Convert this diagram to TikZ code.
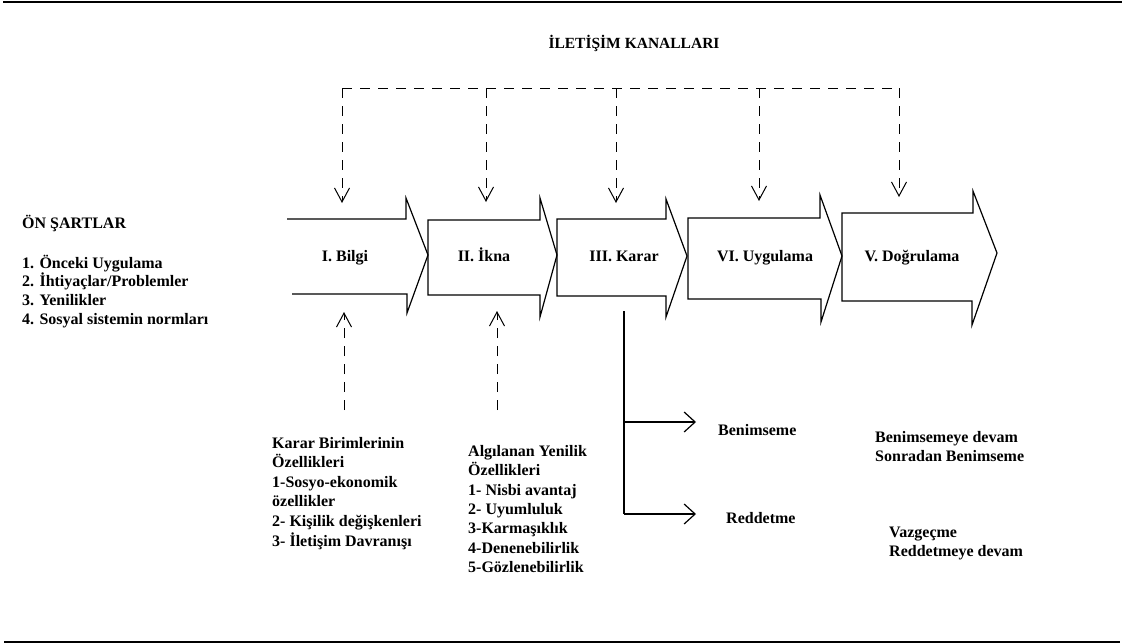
\documentclass[tikz,border=0pt]{standalone}
\usepackage{fontspec}
\setmainfont{Liberation Serif}
\usetikzlibrary{arrows.meta}
\begin{document}
\begin{tikzpicture}[x=1pt,y=-1pt,
  blockarrow/.style={draw=black, line width=1.2pt, line join=miter},
  txt/.style={font=\fontsize{16}{19}\selectfont\bfseries, inner sep=0pt},
  chan/.style={line width=1pt, dash pattern=on 10pt off 8pt},
  chanhead/.style={-{Straight Barb[length=14pt,width=15pt,line width=1pt]}},
  rulebar/.style={line width=2pt},
  decision/.style={line width=1.2pt, -{Straight Barb[length=11pt,width=20pt,line width=1.2pt]}}
]
\useasboundingbox (0,0) rectangle (1122,643);
% horizontal rules
\draw[rulebar] (3,1.5) -- (1122,1.5);
\draw[rulebar] (4,641.5) -- (1120,641.5);

% title
\node[txt, font=\fontsize{15.5}{19}\selectfont\bfseries, anchor=base] (title) at (634,48) {İLETİŞİM KANALLARI};

% block arrows (stages)
\draw[blockarrow] (287,219) -- (406,219) -- (406,198) -- (428,255) -- (407,313) -- (407,294) -- (292,294);
\draw[blockarrow] (428,220) -- (540,220) -- (540,198) -- (557,255) -- (540,317) -- (540,295) -- (428,295) -- cycle;
\draw[blockarrow] (557,219) -- (666,219) -- (666,199) -- (687,256) -- (666,317) -- (666,296) -- (557,296) -- cycle;
\draw[blockarrow] (688,218) -- (820,218) -- (820,195) -- (842,256) -- (821,322) -- (821,299) -- (688,299) -- cycle;
\draw[blockarrow] (842,213) -- (973,213) -- (973,191) -- (997,253) -- (972,325) -- (972,301) -- (842,301) -- cycle;

\node[txt, anchor=base] (bilgi) at (345,261) {I. Bilgi};
\node[txt, anchor=base] (ikna) at (484,261) {II. İkna};
\node[txt, anchor=base] (karar) at (624,261) {III. Karar};
\node[txt, anchor=base] (uygulama) at (765,261) {VI. Uygulama};
\node[txt, anchor=base] (dogrulama) at (912,261) {V. Doğrulama};

% communication channels (top dashed)
\coordinate (c1) at (342,88);
\coordinate (c2) at (486,88);
\coordinate (c3) at (616,88);
\coordinate (c4) at (759,88);
\coordinate (c5) at (899,88);
\coordinate (t1) at (342,203);
\coordinate (t2) at (486,202);
\coordinate (t3) at (616,203);
\coordinate (t4) at (759,201);
\coordinate (t5) at (899,197);
\draw[chan] (c1) -- (c5);
\draw[chan, chanhead] (c1) -- (t1);
\draw[chan, chanhead] (c2) -- (t2);
\draw[chan, chanhead] (c3) -- (t3);
\draw[chan, chanhead] (c4) -- (t4);
\draw[chan, chanhead] (c5) -- (t5);

% bottom dashed up-arrows
\coordinate (u1s) at (344,410);
\coordinate (u1t) at (344,312);
\coordinate (u2s) at (497,410);
\coordinate (u2t) at (497,311);
\draw[chan, chanhead] (u1s) -- (u1t);
\draw[chan, chanhead] (u2s) -- (u2t);

% decision branches
\coordinate (k0) at (624,311);
\coordinate (kb) at (624,422);
\coordinate (kr) at (624,514);
\coordinate (kbe) at (696,422);
\coordinate (kre) at (696,514);
\draw[line width=1.2pt] (k0) -- (kr);
\draw[decision] (kb) -- (kbe);
\draw[decision] (kr) -- (kre);

% prerequisites
\node[txt, anchor=base west] (onsart) at (22,228) {ÖN ŞARTLAR};
\foreach \t [count=\i from 0] in {1. Önceki Uygulama, 2. İhtiyaçlar/Problemler, 3. Yenilikler, 4. Sosyal sistemin normları}
  \node[txt, anchor=base west] (os\i) at (22,268+\i*18.9) {\t};

% decision unit characteristics
\foreach \t [count=\i from 0] in {Karar Birimlerinin, Özellikleri, 1-Sosyo-ekonomik, özellikler, 2- Kişilik değişkenleri, 3- İletişim Davranışı}
  \node[txt, anchor=base west] (kb\i) at (272,448+\i*19.6) {\t};

% perceived innovation characteristics
\foreach \t [count=\i from 0] in {Algılanan Yenilik, Özellikleri, 1- Nisbi avantaj, 2- Uyumluluk, 3-Karmaşıklık, 4-Denenebilirlik, 5-Gözlenebilirlik}
  \node[txt, anchor=base west] (ay\i) at (468,456.5+\i*19.3) {\t};

% outcomes
\node[txt, anchor=base west] (benimseme) at (718,435.5) {Benimseme};
\node[txt, anchor=base west] (reddetme) at (726,523.5) {Reddetme};
\node[txt, anchor=base west] (devam1) at (875,442.5) {Benimsemeye devam};
\node[txt, anchor=base west] (sonradan) at (875,461.5) {Sonradan Benimseme};
\node[txt, anchor=base west] (vazgecme) at (889,537) {Vazgeçme};
\node[txt, anchor=base west] (devam2) at (889,556) {Reddetmeye devam};
\end{tikzpicture}
\end{document}
